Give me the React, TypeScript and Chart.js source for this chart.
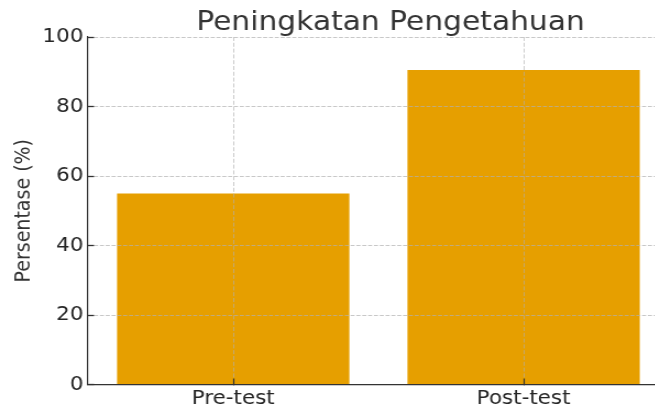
import React, { useEffect, useRef } from 'react';
import { Chart, registerables } from 'chart.js';

Chart.register(...registerables);

// ---- data ----
const categories: string[] = ['Pre-test', 'Post-test'];
const scores: number[] = [55, 90.5];
const yTickValues: number[] = [0, 20, 40, 60, 80, 100];
const chartTitle = 'Peningkatan Pengetahuan';
const yAxisTitle = 'Persentase (%)';

// ---- styling ----
const FAMILY = "'DejaVu Sans', sans-serif";
const STRETCH_X = 1.1; // reference appears horizontally stretched
const W = 610;
const H = 410;
const GRID = 'rgba(176,176,176,0.7)';
const DARK = '#333333';
const TICK_TEXT = '#262626';

const titlePlugin = {
  id: 'customTitle',
  afterDraw(chart: any) {
    const { ctx, chartArea } = chart;
    ctx.save();
    ctx.font = `normal 27px ${FAMILY}`;
    ctx.fillStyle = DARK;
    ctx.textAlign = 'center';
    ctx.textBaseline = 'alphabetic';
    const cx = (chartArea.left + chartArea.right) / 2 + 11;
    ctx.fillText(chartTitle, cx, 29.5);
    ctx.restore();
  },
};

export default function App() {
  const ref = useRef<HTMLCanvasElement>(null);

  useEffect(() => {
    const canvas = ref.current;
    if (!canvas) return;
    const chart = new Chart(canvas, {
      type: 'bar',
      data: {
        labels: categories,
        datasets: [
          {
            data: scores,
            backgroundColor: '#E69F00',
            borderWidth: 0,
            categoryPercentage: 0.8,
            barPercentage: 1,
          },
        ],
      },
      options: {
        responsive: false,
        animation: false,
        devicePixelRatio: 1,
        layout: { padding: { left: 0, right: 2, top: 37, bottom: 0 } },
        plugins: {
          legend: { display: false },
          tooltip: { enabled: false },
          title: { display: false },
        },
        scales: {
          x: {
            type: 'category',
            offset: true,
            grid: {
              offset: false,
              z: 1,
              color: GRID,
              lineWidth: 0.9,
              drawTicks: true,
              tickLength: -6,
              tickColor: DARK,
              tickWidth: 1.2,
              tickBorderDash: [],
            },
            border: { display: true, color: DARK, width: 1.3, dash: [4, 1.8], z: 2 },
            ticks: {
              color: TICK_TEXT,
              font: { family: FAMILY, size: 19.5, lineHeight: 1.2 },
              padding: 8.4,
              maxRotation: 0,
            },
            afterFit: (s: any) => {
              s.height = 25.5;
            },
          },
          y: {
            type: 'linear',
            min: 0,
            max: 100,
            afterBuildTicks: (s: any) => {
              s.ticks = yTickValues.map((v) => ({ value: v }));
            },
            grid: {
              z: 1,
              color: GRID,
              lineWidth: 1,
              drawTicks: true,
              tickLength: -5.5,
              tickColor: DARK,
              tickWidth: 1.3,
              tickBorderDash: [],
            },
            border: { display: true, color: DARK, width: 1.2, dash: [3.7, 1.6], z: 2 },
            ticks: {
              color: TICK_TEXT,
              font: { family: FAMILY, size: 19.5, lineHeight: 1.2 },
              padding: 9.7,
            },
            title: {
              display: true,
              text: yAxisTitle,
              color: DARK,
              font: { family: FAMILY, size: 19, lineHeight: 1.2 },
              padding: { top: 10.3, bottom: 0 },
            },
            afterFit: (s: any) => {
              s.width = 80;
            },
          },
        },
      },
      plugins: [titlePlugin],
    });
    return () => chart.destroy();
  }, []);

  return (
    <div
      style={{
        position: 'fixed',
        left: 0,
        top: 0,
        width: 655,
        height: 410,
        overflow: 'hidden',
        background: '#ffffff',
      }}
    >
      <canvas
        ref={ref}
        width={W}
        height={H}
        style={{ display: 'block', width: `${W * STRETCH_X}px`, height: `${H}px` }}
      />
    </div>
  );
}
